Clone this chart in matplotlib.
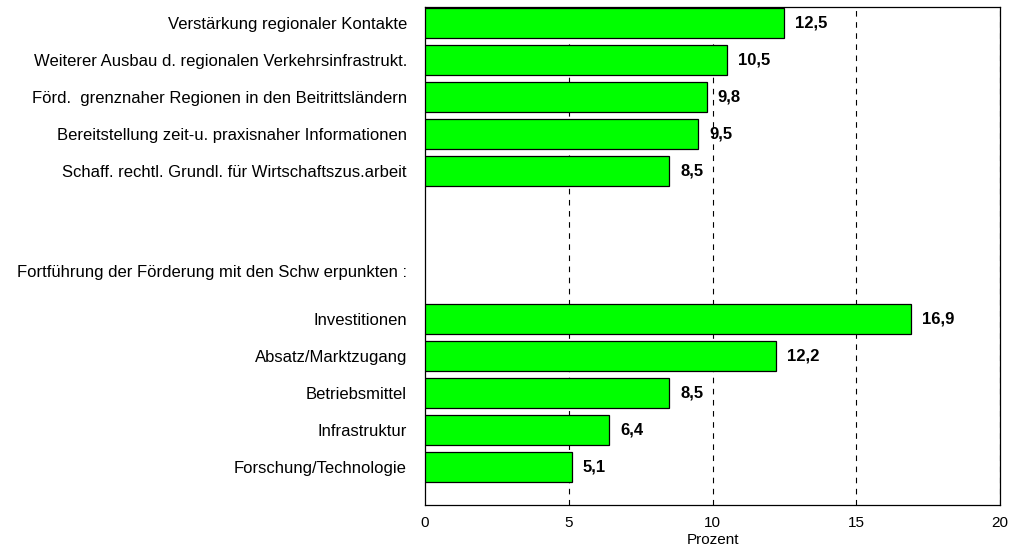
import numpy as np
import matplotlib
matplotlib.use("Agg")
import matplotlib.pyplot as plt

plt.rcParams["font.family"] = ["Liberation Sans", "DejaVu Sans"]

top_labels = ["Verstärkung regionaler Kontakte",
              "Weiterer Ausbau d. regionalen Verkehrsinfrastrukt.",
              "Förd.  grenznaher Regionen in den Beitrittsländern",
              "Bereitstellung zeit-u. praxisnaher Informationen",
              "Schaff. rechtl. Grundl. für Wirtschaftszus.arbeit"]
top_values = [12.5, 10.5, 9.8, 9.5, 8.5]

header = "Fortführung der Förderung mit den Schw erpunkten :"

bottom_labels = ["Investitionen", "Absatz/Marktzugang", "Betriebsmittel",
                 "Infrastruktur", "Forschung/Technologie"]
bottom_values = [16.9, 12.2, 8.5, 6.4, 5.1]

GREEN = "#00FF00"
FS = 12

top_pos = np.arange(len(top_labels))
bottom_pos = np.arange(len(bottom_labels)) + 8
header_pos = 6.7

fig = plt.figure(figsize=(10.12, 5.49), dpi=100)
ax = fig.add_axes([425 / 1012, 1 - 505 / 549, 575 / 1012, 498 / 549])

for pos, vals in [(top_pos, top_values), (bottom_pos, bottom_values)]:
    ax.barh(pos, vals, height=0.8, color=GREEN, edgecolor="black",
            linewidth=0.9, zorder=3)
    for p, v in zip(pos, vals):
        ax.text(v + 0.38, p, f"{v:.1f}".replace(".", ","), va="center",
                ha="left", fontsize=FS, fontweight="bold", zorder=4)

for gx in [5, 10, 15, 20]:
    ax.axvline(gx, color="black", linestyle=(0, (5, 5)), linewidth=0.8, zorder=1)

ax.set_xlim(0, 20)
ax.set_ylim(13.03, -0.43)
ax.set_xticks([0, 5, 10, 15, 20])
ax.tick_params(axis="x", length=0, pad=8, labelsize=11)
ax.set_yticks(list(top_pos) + [header_pos] + list(bottom_pos))
ax.set_yticklabels(top_labels + [header] + bottom_labels)
ax.tick_params(axis="y", length=0, pad=13, labelsize=FS)
ax.set_xlabel("Prozent", fontsize=11, labelpad=2)

for s in ax.spines.values():
    s.set_linewidth(0.9)

plt.savefig("out.png", dpi=100)
plt.close()
